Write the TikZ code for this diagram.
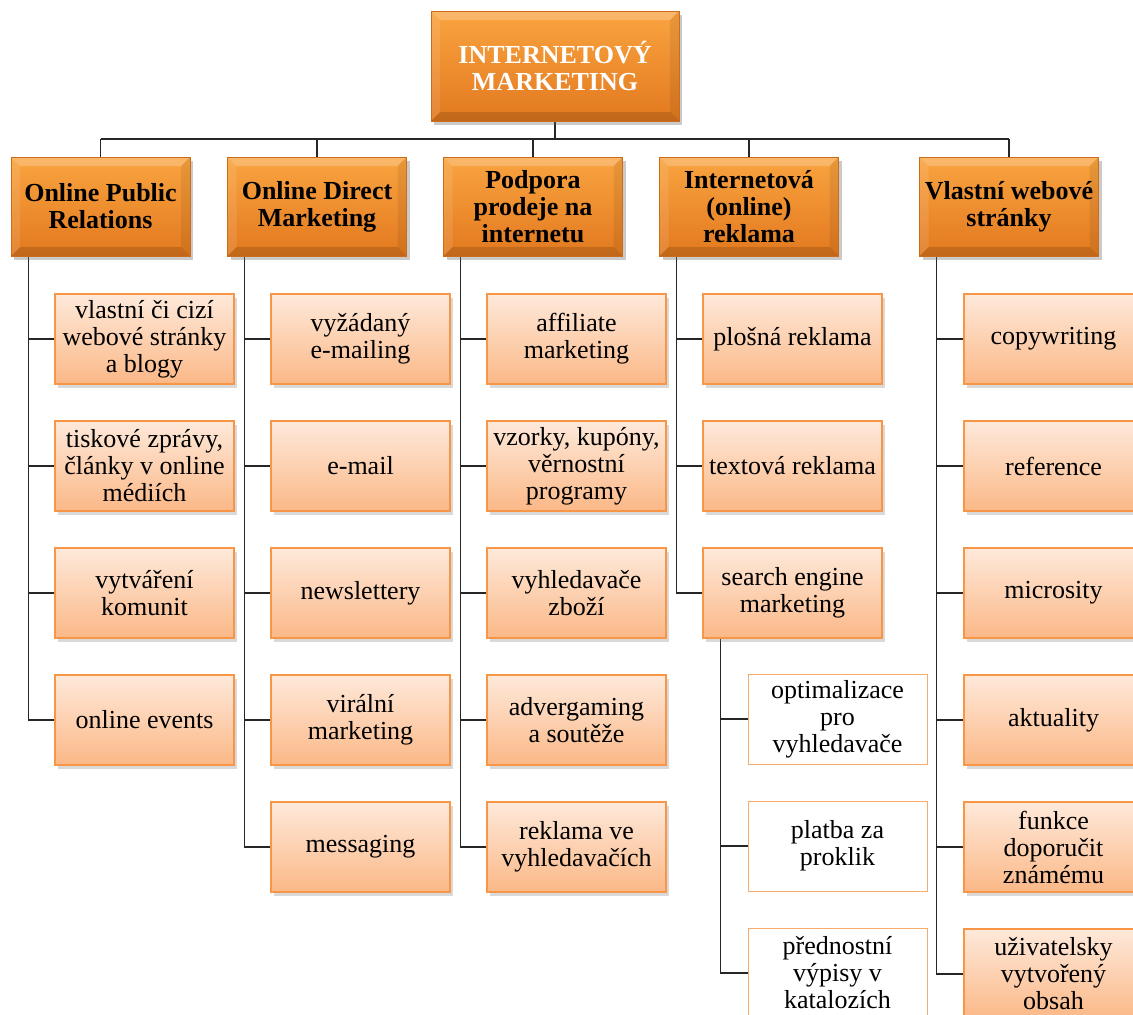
\documentclass[tikz,border=0pt]{standalone}
\usepackage{fontspec}
\setmainfont{Liberation Serif}
\usetikzlibrary{shadows,backgrounds}

\definecolor{orangeTop}{HTML}{FAA440}
\definecolor{orangeBot}{HTML}{E2791F}
\definecolor{orangeLine}{HTML}{F79646}
\definecolor{peachTop}{HTML}{FEE9DA}
\definecolor{peachBot}{HTML}{FBB887}

\tikzset{
  bevel/.style={path picture={
      \fill[white,opacity=.22] (path picture bounding box.north west) -- (path picture bounding box.north east)
        -- ([xshift=-9pt,yshift=-9pt]path picture bounding box.north east) -- ([xshift=9pt,yshift=-9pt]path picture bounding box.north west) -- cycle;
      \fill[black,opacity=.14] (path picture bounding box.south west) -- (path picture bounding box.south east)
        -- ([xshift=-9pt,yshift=9pt]path picture bounding box.south east) -- ([xshift=9pt,yshift=9pt]path picture bounding box.south west) -- cycle;
      \fill[black,opacity=.07] (path picture bounding box.north east) -- (path picture bounding box.south east)
        -- ([xshift=-9pt,yshift=9pt]path picture bounding box.south east) -- ([xshift=-9pt,yshift=-9pt]path picture bounding box.north east) -- cycle;
      \fill[white,opacity=.10] (path picture bounding box.north west) -- (path picture bounding box.south west)
        -- ([xshift=9pt,yshift=9pt]path picture bounding box.south west) -- ([xshift=9pt,yshift=-9pt]path picture bounding box.north west) -- cycle;
  }},
  catbox/.style={rectangle, draw=orangeBot!90!black, line width=.6pt,
    top color=orangeTop, bottom color=orangeBot, bevel,
    drop shadow={shadow xshift=3pt, shadow yshift=-4pt, opacity=.35, fill=black!60},
    minimum width=179pt, minimum height=99pt, inner sep=2pt, align=center,
    font=\fontsize{26}{27}\selectfont\bfseries},
  headbox/.style={catbox, minimum width=248pt, minimum height=110pt, text=white},
  leafbox/.style={rectangle, draw=orangeLine, line width=1.5pt,
    top color=peachTop, bottom color=peachBot,
    drop shadow={shadow xshift=3pt, shadow yshift=-4pt, opacity=.3, fill=black!50},
    minimum width=179pt, minimum height=90pt, inner sep=2pt, align=center,
    font=\fontsize{26}{27}\selectfont},
  plainbox/.style={rectangle, draw=orangeLine!80, line width=.8pt, fill=white,
    minimum width=179pt, minimum height=90pt, inner sep=2pt, align=center,
    font=\fontsize{26}{27}\selectfont},
  link/.style={draw=black!85, line width=1.3pt}
}

\begin{document}
\begin{tikzpicture}[x=1pt, y=-1pt]
  \useasboundingbox (0,0) rectangle (1133,1015);

  % root and the five main groups
  \node[headbox] (root) at (555,66) {INTERNETOVÝ\\MARKETING};
  \node[catbox] (opr) at (100.5,206.5) {Online Public\\Relations};
  \node[catbox] (odm) at (317,206.5) {Online Direct\\Marketing};
  \node[catbox] (pod) at (533,206.5) {Podpora\\prodeje na\\internetu};
  \node[catbox] (rek) at (749,206.5) {Internetová\\(online)\\reklama};
  \node[catbox] (web) at (1009,206.5) {Vlastní webové\\stránky};
  \coordinate (bus) at (0,139);

  % leaves of each group
  \foreach \t [count=\i] in {{vlastní či cizí\\webové stránky\\a blogy},
      {tiskové zprávy,\\články v online\\médiích}, {vytváření\\komunit}, {online events}}
    \node[leafbox] (pr\i) at (144.5,{339+127*(\i-1)}) {\t};
  \foreach \t [count=\i] in {{vyžádaný\\e-mailing}, {e-mail}, {newslettery},
      {virální\\marketing}, {messaging}}
    \node[leafbox] (dm\i) at (360.5,{339+127*(\i-1)}) {\t};
  \foreach \t [count=\i] in {{affiliate\\marketing}, {vzorky, kupóny,\\věrnostní\\programy},
      {vyhledavače\\zboží}, {advergaming\\a soutěže}, {reklama ve\\vyhledavačích}}
    \node[leafbox] (pp\i) at (576.5,{339+127*(\i-1)}) {\t};
  \foreach \t [count=\i] in {{plošná reklama}, {textová reklama}, {search engine\\marketing}}
    \node[leafbox] (ir\i) at (792.5,{339+127*(\i-1)}) {\t};
  \foreach \t [count=\i] in {{optimalizace\\pro\\vyhledavače}, {platba za\\proklik},
      {přednostní\\výpisy v\\katalozích}}
    \node[plainbox] (sem\i) at (837.5,{719+127*(\i-1)}) {\t};
  \foreach \t [count=\i] in {{copywriting}, {reference}, {microsity}, {aktuality},
      {funkce\\doporučit\\známému}, {uživatelsky\\vytvořený\\obsah}}
    \node[leafbox] (vw\i) at (1053.5,{339+127*(\i-1)}) {\t};

  % connectors
  \begin{scope}[on background layer]
    \draw[link] (root.south) -- (root.south |- bus);
    \draw[link] (bus -| opr.north) -- (bus -| web.north);
    \foreach \c in {opr,odm,pod,rek,web}
      \draw[link] (bus -| \c.north) -- (\c.north);
    \foreach \i in {1,...,4}
      \draw[link] ([xshift=17.5pt]opr.south west) |- (pr\i.west);
    \foreach \i in {1,...,5}
      \draw[link] ([xshift=17.5pt]odm.south west) |- (dm\i.west);
    \foreach \i in {1,...,5}
      \draw[link] ([xshift=17.5pt]pod.south west) |- (pp\i.west);
    \foreach \i in {1,...,3}
      \draw[link] ([xshift=17.5pt]rek.south west) |- (ir\i.west);
    \foreach \i in {1,...,3}
      \draw[link] ([xshift=18pt]ir3.south west) |- (sem\i.west);
    \foreach \i in {1,...,6}
      \draw[link] ([xshift=17.5pt]web.south west) |- (vw\i.west);
  \end{scope}
\end{tikzpicture}
\end{document}
